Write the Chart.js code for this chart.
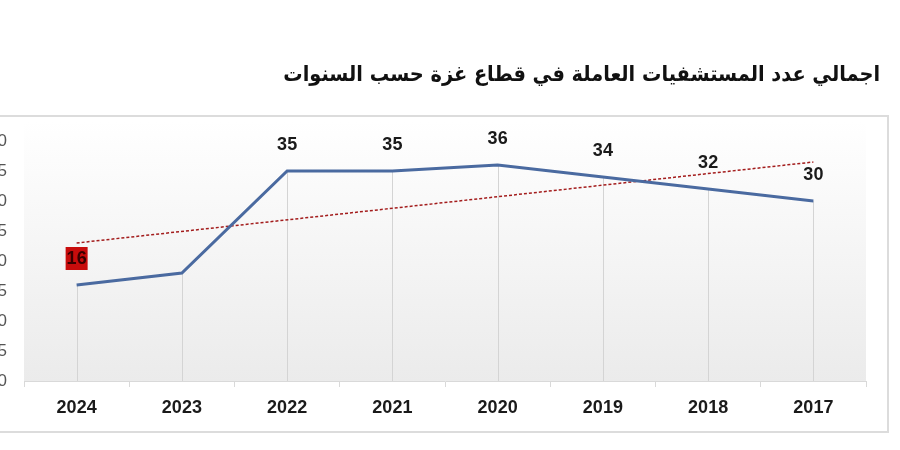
<!DOCTYPE html>
<html>
<head>
<meta charset="utf-8">
<script src="https://cdn.jsdelivr.net/npm/chart.js@4/dist/chart.umd.min.js"></script>
<style>
  html, body { margin: 0; padding: 0; background: #fff; overflow: hidden; }
  #wrap { position: absolute; left: -22px; top: 0; width: 922px; height: 450px; }
</style>
</head>
<body>
<div id="wrap"><canvas id="hospitalsChart"></canvas></div>
<script>
const chartTitle = 'اجمالي عدد المستشفيات العاملة في قطاع غزة حسب السنوات'
const years = ['2024', '2023', '2022', '2021', '2020', '2019', '2018', '2017']
const hospitals = [16, 18, 35, 35, 36, 34, 32, 30]
const pointLabels = ['16', '', '35', '35', '36', '34', '32', '30']
// excel linear trendline, end points
const trend = [23, null, null, null, null, null, null, 36.5]
const yTicks = [0, 5, 10, 15, 20, 25, 30, 35, 40]

const OFFSET = 22 // canvas is shifted left so the y labels are cut like the source
const TITLE_WIDTH = 605

const framePlugin = {
    id: 'frame',
    beforeDraw(chart) {
        const { ctx, chartArea } = chart
        ctx.save()
        ctx.fillStyle = '#fff'
        ctx.fillRect(0, 0, chart.width, chart.height)
        ctx.strokeStyle = '#dcdcdc'
        ctx.lineWidth = 2
        ctx.strokeRect(-5 + OFFSET, 116, 893, 316)
        const grad = ctx.createLinearGradient(0, chartArea.top - 20, 0, chartArea.bottom)
        grad.addColorStop(0, '#ffffff')
        grad.addColorStop(1, '#ebebeb')
        ctx.fillStyle = grad
        ctx.fillRect(chartArea.left, chartArea.top - 20, chartArea.right - chartArea.left, chartArea.bottom - chartArea.top + 20)

        // title sits outside the chart frame in the source
        ctx.fillStyle = '#111'
        ctx.textAlign = 'right'
        ctx.textBaseline = 'middle'
        ctx.direction = 'rtl'
        let size = 24
        ctx.font = `bold ${size}px "DejaVu Sans Condensed", "DejaVu Sans"`
        while (size > 14 && ctx.measureText(chartTitle).width > TITLE_WIDTH) {
            size -= 0.5
            ctx.font = `bold ${size}px "DejaVu Sans Condensed", "DejaVu Sans"`
        }
        ctx.fillText(chartTitle, 880 + OFFSET, 75)
        ctx.restore()
    },
    beforeDatasetsDraw(chart) {
        const { ctx, chartArea } = chart
        const meta = chart.getDatasetMeta(0)
        ctx.save()
        ctx.strokeStyle = '#d4d4d4'
        ctx.lineWidth = 1
        meta.data.forEach(pt => {
            ctx.beginPath()
            ctx.moveTo(Math.round(pt.x) + 0.5, pt.y)
            ctx.lineTo(Math.round(pt.x) + 0.5, chartArea.bottom)
            ctx.stroke()
        })
        ctx.restore()
    },
    afterDatasetsDraw(chart) {
        const { ctx } = chart
        const meta = chart.getDatasetMeta(0)
        ctx.save()
        ctx.font = 'bold 18px "Liberation Sans"'
        ctx.textAlign = 'center'
        ctx.textBaseline = 'middle'
        meta.data.forEach((pt, i) => {
            const text = pointLabels[i]
            if (!text) {
                return
            }
            const y = pt.y - 27
            if (i === 0) {
                ctx.fillStyle = '#c80c0c'
                ctx.fillRect(pt.x - 11, y - 11, 22, 23)
                ctx.fillStyle = '#3a0000'
            } else {
                ctx.fillStyle = '#1a1a1a'
            }
            ctx.fillText(text, pt.x, y + 1)
        })
        ctx.restore()
    }
}

const init = () => {
    const el = document.getElementById('hospitalsChart')
    new Chart(el, {
        type: 'line',
        data: {
            labels: years,
            datasets: [{
                data: hospitals,
                borderColor: '#4a6aa0',
                borderWidth: 3,
                pointRadius: 0,
                tension: 0
            }, {
                data: trend,
                borderColor: '#a31c1c',
                borderWidth: 1.5,
                borderDash: [3, 2],
                pointRadius: 0,
                spanGaps: true
            }]
        },
        options: {
            responsive: true,
            maintainAspectRatio: false,
            animation: false,
            layout: { padding: { top: 141, right: 34, left: 0, bottom: 0 } },
            plugins: {
                legend: { display: false },
                title: { display: false },
                tooltip: { enabled: false }
            },
            scales: {
                x: {
                    offset: true,
                    afterFit: scale => { scale.height = 69 },
                    grid: {
                        offset: true,
                        drawOnChartArea: false,
                        drawTicks: true,
                        tickLength: 6,
                        color: '#d9d9d9'
                    },
                    border: { color: '#d9d9d9' },
                    ticks: {
                        padding: 10,
                        color: '#1a1a1a',
                        font: { family: '"Liberation Sans"', weight: 'bold', size: 18 }
                    }
                },
                y: {
                    min: 0,
                    max: 40,
                    afterFit: scale => { scale.width = 46 },
                    afterBuildTicks: scale => { scale.ticks = yTicks.map(v => ({ value: v })) },
                    grid: { display: false, drawTicks: false },
                    border: { display: false },
                    ticks: {
                        padding: 17,
                        color: '#555',
                        font: { family: '"Liberation Sans"', size: 17 }
                    }
                }
            }
        },
        plugins: [framePlugin]
    })
}

init()
</script>
</body>
</html>
